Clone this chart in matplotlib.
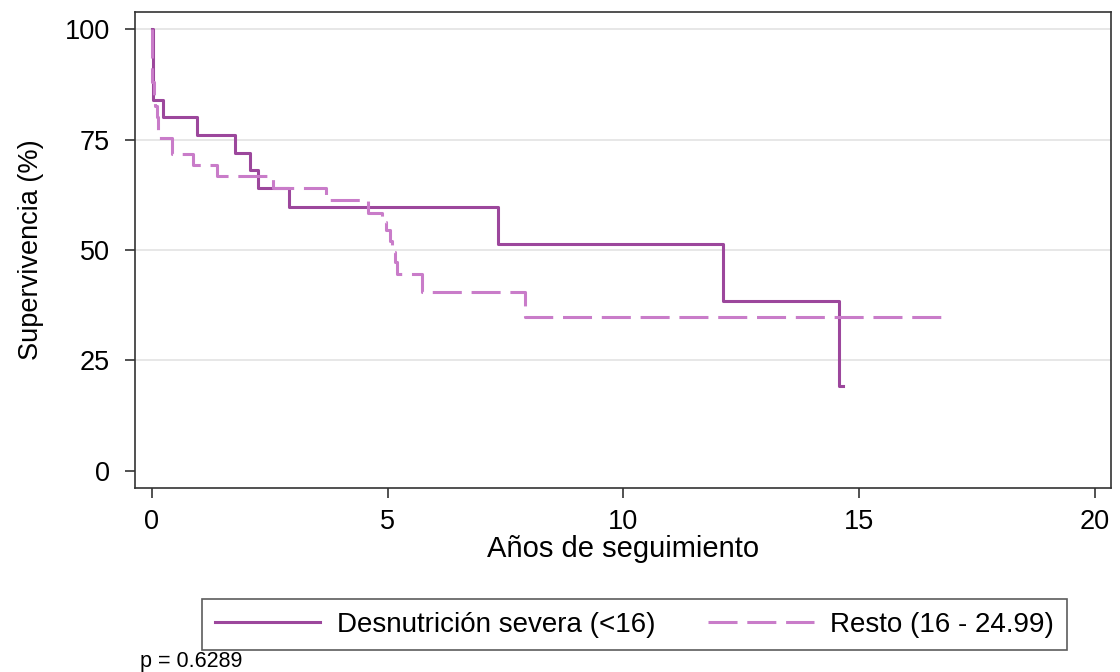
import matplotlib
matplotlib.use("Agg")
import matplotlib.pyplot as plt

plt.rcParams['font.family'] = ['Liberation Sans', 'DejaVu Sans']

# Kaplan-Meier step points (years, survival %)
severa_t = [0.00, 0.03, 0.23, 0.95, 1.77, 2.08, 2.25, 2.90, 7.34, 12.12, 14.58, 14.66]
severa_s = [100.0, 84.0, 80.0, 76.0, 72.0, 68.0, 64.0, 59.8, 51.3, 38.5, 19.2, 19.2]

resto_t = [0.00, 0.01, 0.04, 0.07, 0.10, 0.13, 0.43, 0.88, 1.38, 2.57, 3.70, 4.59,
           4.87, 4.97, 5.05, 5.10, 5.15, 5.19, 5.73, 7.91, 16.92]
resto_s = [100.0, 88.0, 85.0, 82.5, 80.0, 75.4, 71.8, 69.2, 66.7, 64.0, 61.3, 58.4,
           56.4, 54.5, 52.0, 49.6, 47.2, 44.6, 40.6, 34.9, 34.9]

labels = ['Desnutrición severa (<16)', 'Resto (16 - 24.99)']
p_text = 'p = 0.6289'

fig = plt.figure(figsize=(11.2, 6.72), dpi=100)
ax = fig.add_axes([0.1205, 0.274, 0.8715, 0.708])

ax.step(severa_t, severa_s, where='post', color='#9c479c', lw=2.2,
        label=labels[0])
ax.step(resto_t, resto_s, where='post', color='#c97cc9', lw=2.2,
        dashes=(9.5, 3.2), label=labels[1])

ax.set_xlim(-0.36, 20.34)
ax.set_ylim(-3.85, 103.85)
ax.set_xticks([0, 5, 10, 15, 20])
ax.set_yticks([0, 25, 50, 75, 100])
for yv in [25, 50, 75, 100]:
    ax.axhline(yv, color='#e3e3e3', lw=1.2, zorder=0)

ax.tick_params(labelsize=19.5, length=7, width=1.2, color='#333333', pad=11)
ax.tick_params(axis='x', pad=8)
for s in ax.spines.values():
    s.set_color('#333333')
    s.set_linewidth(1.2)

ax.set_xlabel('Años de seguimiento', fontsize=21, labelpad=0)
ax.set_ylabel('Supervivencia (%)', fontsize=19.5, labelpad=15)

leg = fig.legend(loc='center', bbox_to_anchor=(0.5665, 0.0705), ncol=2,
                 fontsize=20, frameon=True, fancybox=False, edgecolor='#333333',
                 handlelength=3.8, handletextpad=0.6, columnspacing=1.9,
                 borderpad=0.45)
leg.get_frame().set_linewidth(1.2)

fig.text(0.125, 0.008, p_text, fontsize=15.5)

fig.savefig('out.png', dpi=100)
